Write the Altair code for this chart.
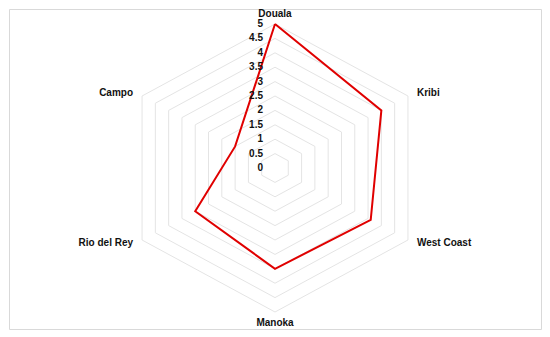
import altair as alt
import pandas as pd

categories = ["Douala", "Kribi", "West Coast", "Manoka", "Rio del Rey", "Campo"]
values = [5.0, 4.0, 3.6, 3.5, 3.0, 1.5]
levels = [0.5, 1.0, 1.5, 2.0, 2.5, 3.0, 3.5, 4.0, 4.5, 5.0]
tick_labels = ["0", "0.5", "1", "1.5", "2", "2.5", "3", "3.5", "4", "4.5", "5"]
tick_values = [0, 0.5, 1, 1.5, 2, 2.5, 3, 3.5, 4, 4.5, 5]

n = len(categories)
series = pd.DataFrame({
    "category": categories + [categories[0]],
    "value": values + [values[0]],
    "idx": list(range(n)) + [n],
})
rings = pd.DataFrame(
    [{"level": lv, "idx": i} for lv in levels for i in range(n + 1)]
)
cats = pd.DataFrame({"category": categories, "idx": list(range(n)), "r": 5.0})
ticks = pd.DataFrame({"label": tick_labels, "v": tick_values})

xs = alt.Scale(domain=[-8.664, 8.664])
ys = alt.Scale(domain=[-5.590, 5.521])
X = lambda: alt.X("x:Q", scale=xs, axis=None)
Y = lambda: alt.Y("y:Q", scale=ys, axis=None)

ring_layer = alt.Chart(rings).transform_calculate(
    x="datum.level*sin(datum.idx*PI/3)", y="datum.level*cos(datum.idx*PI/3)"
).mark_line(color="#e4e4e4", strokeWidth=1).encode(
    x=X(), y=Y(), detail="level:N", order="idx:Q"
)

series_layer = alt.Chart(series).transform_calculate(
    x="datum.value*sin(datum.idx*PI/3)", y="datum.value*cos(datum.idx*PI/3)"
).mark_line(color="#e00000", strokeWidth=2).encode(
    x=X(), y=Y(), order="idx:Q"
)

base_cat = alt.Chart(cats).transform_calculate(
    x="datum.r*sin(datum.idx*PI/3)", y="datum.r*cos(datum.idx*PI/3)"
)
font = dict(font="Liberation Sans", fontWeight="bold", fontSize=10, color="#111111")
lab_top = base_cat.transform_filter("datum.idx==0").mark_text(
    align="center", baseline="middle", dy=-10, **font).encode(x=X(), y=Y(), text="category:N")
lab_bot = base_cat.transform_filter("datum.idx==3").mark_text(
    align="center", baseline="middle", dy=11, **font).encode(x=X(), y=Y(), text="category:N")
lab_right_up = base_cat.transform_filter("datum.idx==1").mark_text(
    align="left", baseline="middle", dx=9, dy=-3, **font).encode(x=X(), y=Y(), text="category:N")
lab_right_dn = base_cat.transform_filter("datum.idx==2").mark_text(
    align="left", baseline="middle", dx=9, dy=3, **font).encode(x=X(), y=Y(), text="category:N")
lab_left_dn = base_cat.transform_filter("datum.idx==4").mark_text(
    align="right", baseline="middle", dx=-9, dy=3, **font).encode(x=X(), y=Y(), text="category:N")
lab_left_up = base_cat.transform_filter("datum.idx==5").mark_text(
    align="right", baseline="middle", dx=-9, dy=-3, **font).encode(x=X(), y=Y(), text="category:N")

tick_layer = alt.Chart(ticks).transform_calculate(x="0", y="datum.v").mark_text(
    align="right", baseline="middle", dx=-12, **font).encode(x=X(), y=Y(), text="label:N")

chart = alt.layer(
    ring_layer, series_layer, lab_top, lab_bot, lab_right_up, lab_right_dn,
    lab_left_dn, lab_left_up, tick_layer
).properties(
    width=532, height=320, padding=1, autosize="none", background="white"
).configure_view(stroke="#d9d9d9", strokeWidth=1)

chart.save("out.html", embed_options={"renderer": "svg", "actions": False})
